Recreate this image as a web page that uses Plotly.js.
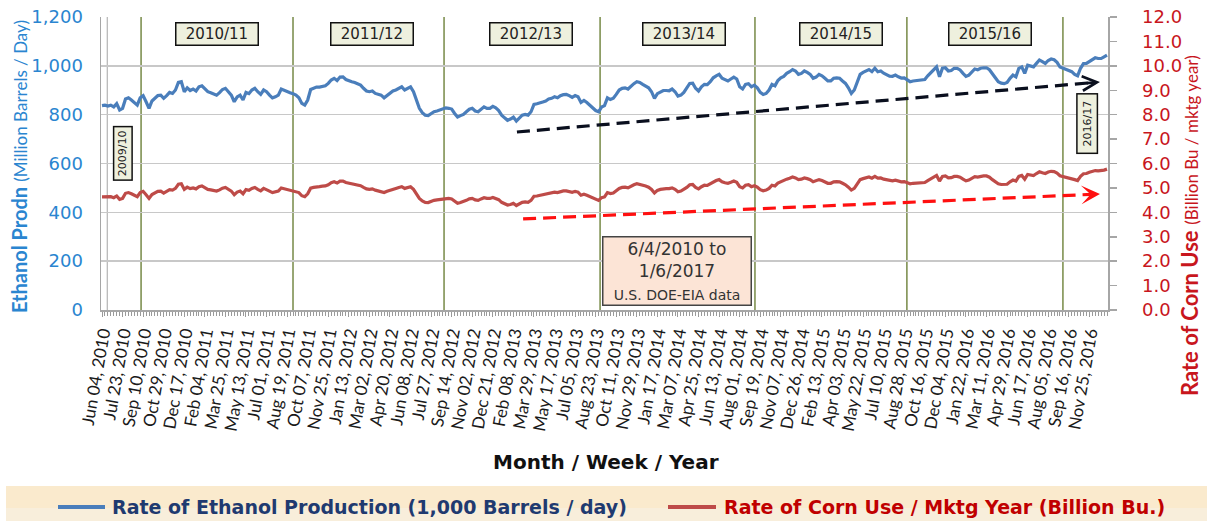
<!DOCTYPE html>
<html>
<head>
<meta charset="utf-8">
<script src="https://cdn.plot.ly/plotly-3.0.1.min.js"></script>
<style>html,body{margin:0;padding:0;background:#fff;}#chart{width:1207px;height:521px;}</style>
</head>
<body>
<div id="chart"></div>
<script>
// Weekly ethanol production (1,000 bbl/day), 6/4/2010 .. 1/6/2017
const ethanol = [
837,839,835,839,832,845,819,826,864,869,860,850,839,869,878,
853,826,856,869,878,880,867,878,891,887,901,932,935,894,910,
899,905,897,914,918,905,894,890,886,880,890,903,908,894,880,
853,873,880,860,891,886,901,908,894,883,901,894,880,869,873,
880,905,899,894,890,886,880,869,846,839,860,903,908,913,913,
916,918,928,942,949,940,954,955,944,938,935,932,928,921,908,
897,894,897,887,883,880,869,878,887,897,901,908,914,901,908,
914,894,860,826,808,798,796,805,812,815,
819,823,828,826,823,805,790,796,801,812,822,826,815,812,
822,832,826,826,834,828,817,798,787,777,782,790,774,787,
798,801,798,812,842,845,850,852,856,864,867,873,869,878,
882,883,878,871,878,873,850,858,850,839,828,817,812,831,
837,869,862,867,883,901,908,910,905,918,927,935,932,924,
918,910,894,867,886,894,899,899,898,905,894,876,880,891,
908,928,929,908,897,914,924,923,935,951,959,965,949,942,
938,946,954,946,914,905,924,927,914,921,910,891,883,887,901,924,
918,940,951,957,969,976,985,979,965,969,979,973,965,949,
954,965,959,949,938,938,949,951,949,938,928,910,887,901,
932,965,973,979,985,976,990,976,979,970,965,958,957,962,
955,950,951,943,935,938,940,942,942,944,959,973,987,996,
955,990,992,979,981,990,990,983,969,957,962,973,987,984,
990,992,992,984,965,951,935,929,927,932,949,962,955,990,
996,969,1003,999,996,1010,1024,1017,1010,1022,1028,1025,1014,995,990,
987,979,976,965,959,990,1009,1010,1019,1028,1033,1030,1030,1037,1044
];

// Weekly rate of corn use / marketing year (billion bu)
const cornUse = [
4.63,4.64,4.62,4.64,4.60,4.67,4.53,4.57,4.78,4.81,4.76,4.70,4.64,4.81,4.86,
4.72,4.57,4.73,4.81,4.86,4.87,4.79,4.86,4.93,4.91,4.98,5.15,5.17,4.94,5.03,
4.97,5.00,4.96,5.05,5.08,5.00,4.94,4.92,4.90,4.87,4.92,4.99,5.02,4.94,4.87,
4.72,4.83,4.87,4.76,4.93,4.90,4.98,5.02,4.94,4.88,4.98,4.94,4.87,4.81,4.83,
4.87,5.00,4.97,4.94,4.92,4.90,4.87,4.81,4.68,4.64,4.76,4.99,5.02,5.05,5.05,
5.07,5.08,5.13,5.21,5.25,5.20,5.28,5.28,5.22,5.19,5.17,5.15,5.13,5.09,5.02,
4.96,4.94,4.96,4.91,4.88,4.87,4.81,4.86,4.91,4.96,4.98,5.02,5.05,4.98,5.02,
5.05,4.94,4.76,4.57,4.47,4.41,4.40,4.45,4.49,4.51,
4.53,4.55,4.58,4.57,4.55,4.45,4.37,4.40,4.43,4.49,4.55,4.57,4.51,4.49,
4.55,4.60,4.57,4.57,4.61,4.58,4.52,4.41,4.35,4.30,4.32,4.37,4.28,4.35,
4.41,4.43,4.41,4.49,4.66,4.67,4.70,4.71,4.73,4.78,4.79,4.83,4.81,4.86,
4.88,4.88,4.86,4.82,4.86,4.83,4.70,4.74,4.70,4.64,4.58,4.52,4.49,4.60,
4.63,4.81,4.77,4.79,4.88,4.98,5.02,5.03,5.00,5.08,5.13,5.17,5.15,5.11,
5.08,5.03,4.94,4.79,4.90,4.94,4.97,4.97,4.97,5.00,4.94,4.84,4.87,4.93,
5.02,5.13,5.14,5.02,4.96,5.05,5.11,5.10,5.17,5.26,5.30,5.34,5.25,5.21,
5.19,5.23,5.28,5.23,5.05,5.00,5.11,5.13,5.05,5.09,5.03,4.93,4.88,4.91,4.98,5.11,
5.08,5.20,5.26,5.29,5.36,5.40,5.45,5.41,5.34,5.36,5.41,5.38,5.34,5.25,
5.28,5.34,5.30,5.25,5.19,5.19,5.25,5.26,5.25,5.19,5.13,5.03,4.91,4.98,
5.15,5.34,5.38,5.41,5.45,5.40,5.47,5.40,5.41,5.36,5.34,5.30,5.29,5.32,
5.28,5.25,5.26,5.21,5.17,5.19,5.20,5.21,5.21,5.22,5.30,5.38,5.46,5.51,
5.28,5.47,5.49,5.41,5.42,5.47,5.47,5.44,5.36,5.29,5.32,5.38,5.46,5.44,
5.47,5.49,5.49,5.44,5.34,5.26,5.17,5.14,5.13,5.15,5.25,5.32,5.28,5.47,
5.51,5.36,5.55,5.52,5.51,5.59,5.66,5.62,5.59,5.65,5.68,5.67,5.61,5.50,5.47,
5.46,5.41,5.40,5.34,5.30,5.47,5.58,5.59,5.64,5.68,5.71,5.70,5.70,5.73,5.77
];

// Category tick labels (every 7th week)
const tickLabels = ["Jun 04, 2010","Jul 23, 2010","Sep 10, 2010","Oct 29, 2010","Dec 17, 2010",
"Feb 04, 2011","Mar 25, 2011","May 13, 2011","Jul 01, 2011","Aug 19, 2011","Oct 07, 2011","Nov 25, 2011",
"Jan 13, 2012","Mar 02, 2012","Apr 20, 2012","Jun 08, 2012","Jul 27, 2012","Sep 14, 2012","Nov 02, 2012","Dec 21, 2012",
"Feb 08, 2013","Mar 29, 2013","May 17, 2013","Jul 05, 2013","Aug 23, 2013","Oct 11, 2013","Nov 29, 2013",
"Jan 17, 2014","Mar 07, 2014","Apr 25, 2014","Jun 13, 2014","Aug 01, 2014","Sep 19, 2014","Nov 07, 2014","Dec 26, 2014",
"Feb 13, 2015","Apr 03, 2015","May 22, 2015","Jul 10, 2015","Aug 28, 2015","Oct 16, 2015","Dec 04, 2015",
"Jan 22, 2016","Mar 11, 2016","Apr 29, 2016","Jun 17, 2016","Aug 05, 2016","Sep 16, 2016","Nov 25, 2016"];
const tickStep = 7;

// Marketing years: labels, start week index (Sep 1), label positions
const mktgYears     = ["2009/10","2010/11","2011/12","2012/13","2013/14","2014/15","2015/16","2016/17"];
const mktgStartIdx  = [13.3, 65.0, 116.4, 169.5, 222.2, 273.9, 327.0];
const mktgLabelIdx  = [7.1, 39.0, 91.9, 146.0, 198.2, 251.6, 302.2, 335.4];
const mktgLabelVal  = [643, 1130, 1130, 1130, 1130, 1130, 1130, 764];

// Trend arrows [startIdx, startVal, endIdx, endVal]
const ethanolTrend = [141.2, 729, 339.6, 934];
const cornTrend    = [143.3, 3.73, 339.6, 4.75];

const weekIdx = ethanol.map((_, i) => i);
const tickVals = tickLabels.map((_, k) => k * tickStep);

const W = 1207, H = 521, ML = 101, MR = 99, MT = 17, MB = 211;
const PW = W - ML - MR, PH = H - MT - MB;
const px = x => (x - ML) / PW;
const py = y => (H - MB - y) / PH;

const BLUE = '#4A7EBB', RED = '#BE4B48';
const BLUE_TXT = '#2A85D0', RED_TXT = '#C8161D';

const traces = [
  {x: weekIdx, y: ethanol, type: 'scatter', mode: 'lines', yaxis: 'y',
   line: {color: BLUE, width: 3.2}, hoverinfo: 'skip', showlegend: false},
  {x: weekIdx, y: cornUse, type: 'scatter', mode: 'lines', yaxis: 'y2',
   line: {color: RED, width: 3.2}, hoverinfo: 'skip', showlegend: false}
];

const shapes = [];
// legend band
shapes.push({type: 'rect', xref: 'paper', yref: 'paper', x0: px(6), x1: px(1207), y0: py(486), y1: py(521),
  fillcolor: '#FAEACD', line: {width: 0}, layer: 'below'});
shapes.push({type: 'rect', xref: 'paper', yref: 'paper', x0: px(6), x1: px(1207), y0: py(508), y1: py(521),
  fillcolor: '#F8EEDB', line: {width: 0}, layer: 'below'});
// marketing-year dividers
mktgStartIdx.forEach(v => shapes.push({type: 'line', xref: 'x', yref: 'paper', x0: v, x1: v, y0: 0, y1: 1,
  line: {color: '#7F9152', width: 1.6}, layer: 'below'}));
// faint inner vertical near left edge
shapes.push({type: 'line', xref: 'x', yref: 'paper', x0: 1.8, x1: 1.8, y0: 0, y1: 1,
  line: {color: '#B4B4B4', width: 1.2}, layer: 'below'});
// trend lines (dashed)
shapes.push({type: 'line', xref: 'x', yref: 'y', x0: ethanolTrend[0], y0: ethanolTrend[1],
  x1: ethanolTrend[2] - 3, y1: ethanolTrend[3] - 3.1, line: {color: '#0A0F1E', width: 3.2, dash: '13px,7px'}});
shapes.push({type: 'line', xref: 'x', yref: 'y2', x0: cornTrend[0], y0: cornTrend[1],
  x1: cornTrend[2] - 3, y1: cornTrend[3] - 0.0156, line: {color: '#FF1010', width: 3.2, dash: '13px,7px'}});
// legend samples
shapes.push({type: 'line', xref: 'paper', yref: 'paper', x0: px(58), x1: px(105), y0: py(507), y1: py(507),
  line: {color: BLUE, width: 4}});
shapes.push({type: 'line', xref: 'paper', yref: 'paper', x0: px(668), x1: px(716), y0: py(507), y1: py(507),
  line: {color: RED, width: 4}});

const annotations = [];
// marketing-year boxes
mktgYears.forEach((t, k) => {
  const vertical = (k === 0 || k === mktgYears.length - 1);
  annotations.push({
    x: mktgLabelIdx[k], y: mktgLabelVal[k], xref: 'x', yref: 'y', text: t, showarrow: false,
    xanchor: 'center', yanchor: 'middle',
    textangle: vertical ? -90 : 0,
    font: {family: 'DejaVu Sans', size: vertical ? 11 : 15, color: '#222'},
    bgcolor: '#EEF0DE', bordercolor: '#111', borderwidth: 1.5, borderpad: vertical ? 2 : 3,
    width: vertical ? (k === 0 ? 48 : 54) : 75, height: vertical ? (k === 0 ? 13 : 15) : 15
  });
});
// data source box
annotations.push({x: 195.7, y: 160, xref: 'x', yref: 'y', showarrow: false, xanchor: 'center', yanchor: 'middle',
  text: "6/4/2010 to<br>1/6/2017<br><span style='font-size:14px'>U.S. DOE-EIA data</span>",
  font: {family: 'DejaVu Sans', size: 17, color: '#333'}, align: 'center',
  bgcolor: '#FCE4D6', bordercolor: '#444', borderwidth: 1.5, borderpad: 2, width: 143, height: 63});
// arrowheads
annotations.push({x: ethanolTrend[2], y: ethanolTrend[3], ax: ethanolTrend[2] - 5, ay: ethanolTrend[3] - 5.2,
  xref: 'x', yref: 'y', axref: 'x', ayref: 'y', text: '', showarrow: true,
  arrowhead: 5, arrowsize: 1.1, arrowwidth: 2.6, arrowcolor: '#0A0F1E', standoff: 0});
annotations.push({x: cornTrend[2], y: cornTrend[3], ax: cornTrend[2] - 5, ay: cornTrend[3] - 0.026,
  xref: 'x', yref: 'y2', axref: 'x', ayref: 'y2', text: '', showarrow: true,
  arrowhead: 3, arrowsize: 1.2, arrowwidth: 2.6, arrowcolor: '#FF1010', standoff: 0});
// axis titles
annotations.push({x: px(19), y: py(167), xref: 'paper', yref: 'paper', showarrow: false, textangle: -90,
  xanchor: 'center', yanchor: 'middle',
  text: "<b>Ethanol Prodn</b> <span style='font-size:17px'>(Million Barrels / Day)</span>",
  font: {family: 'Lato', size: 20, color: BLUE_TXT}});
annotations.push({x: px(1189), y: py(226), xref: 'paper', yref: 'paper', showarrow: false, textangle: -90,
  xanchor: 'center', yanchor: 'middle',
  text: "<b>Rate of Corn Use</b> <span style='font-size:17px'>(Billion Bu / mktg year)</span>",
  font: {family: 'Lato', size: 22, color: RED_TXT}});
annotations.push({x: px(606), y: py(462), xref: 'paper', yref: 'paper', showarrow: false,
  xanchor: 'center', yanchor: 'middle',
  text: "<b>Month / Week / Year</b>", font: {family: 'DejaVu Sans', size: 20, color: '#111'}});
// legend texts
annotations.push({x: px(110), y: py(507), xref: 'paper', yref: 'paper', xanchor: 'left', yanchor: 'middle',
  showarrow: false, text: "<b>Rate of Ethanol Production (1,000 Barrels / day)</b>",
  font: {family: 'DejaVu Sans', size: 19, color: '#1F3A70'}});
annotations.push({x: px(722), y: py(507), xref: 'paper', yref: 'paper', xanchor: 'left', yanchor: 'middle',
  showarrow: false, text: "<b>Rate of Corn Use / Mktg Year (Billion Bu.)</b>",
  font: {family: 'DejaVu Sans', size: 19, color: '#C00000'}});

const layout = {
  width: W, height: H,
  margin: {l: ML, r: MR, t: MT, b: MB, pad: 0},
  paper_bgcolor: '#fff', plot_bgcolor: '#fff',
  showlegend: false,
  xaxis: {
    range: [-0.34, ethanol.length - 1 + 0.34],
    tickmode: 'array', tickvals: tickVals, ticktext: tickLabels,
    tickangle: -80, tickfont: {family: 'Lato', size: 17, color: '#1a1a1a'},
    ticks: 'outside', ticklen: 5, tickcolor: '#9A9A9A', tickwidth: 1,
    minor: {tick0: 0, dtick: 1, ticks: 'outside', ticklen: 4, tickcolor: '#9A9A9A', tickwidth: 1, showgrid: false},
    showline: true, linecolor: '#A6A6A6', linewidth: 1.5,
    showgrid: false, zeroline: false, fixedrange: true
  },
  yaxis: {
    range: [0, 1200], dtick: 200, tick0: 0, tickformat: ',d',
    tickfont: {family: 'DejaVu Sans', size: 18, color: BLUE_TXT},
    ticks: '', ticklabelstandoff: 13,
    showgrid: true, gridcolor: '#C8C8C8', gridwidth: 1.5,
    showline: true, linecolor: '#A6A6A6', linewidth: 1.5, zeroline: false, fixedrange: true
  },
  yaxis2: {
    overlaying: 'y', side: 'right', range: [0, 12], dtick: 1, tick0: 0, tickformat: '.1f',
    tickfont: {family: 'DejaVu Sans', size: 18, color: RED_TXT},
    ticks: 'outside', ticklen: 7, tickcolor: '#A6A6A6', tickwidth: 1.5, ticklabelstandoff: 22,
    showgrid: false, showline: true, linecolor: '#A6A6A6', linewidth: 1.5, zeroline: false, fixedrange: true
  },
  shapes: shapes,
  annotations: annotations
};

Plotly.newPlot('chart', traces, layout, {displayModeBar: false, staticPlot: true});
</script>
</body>
</html>
